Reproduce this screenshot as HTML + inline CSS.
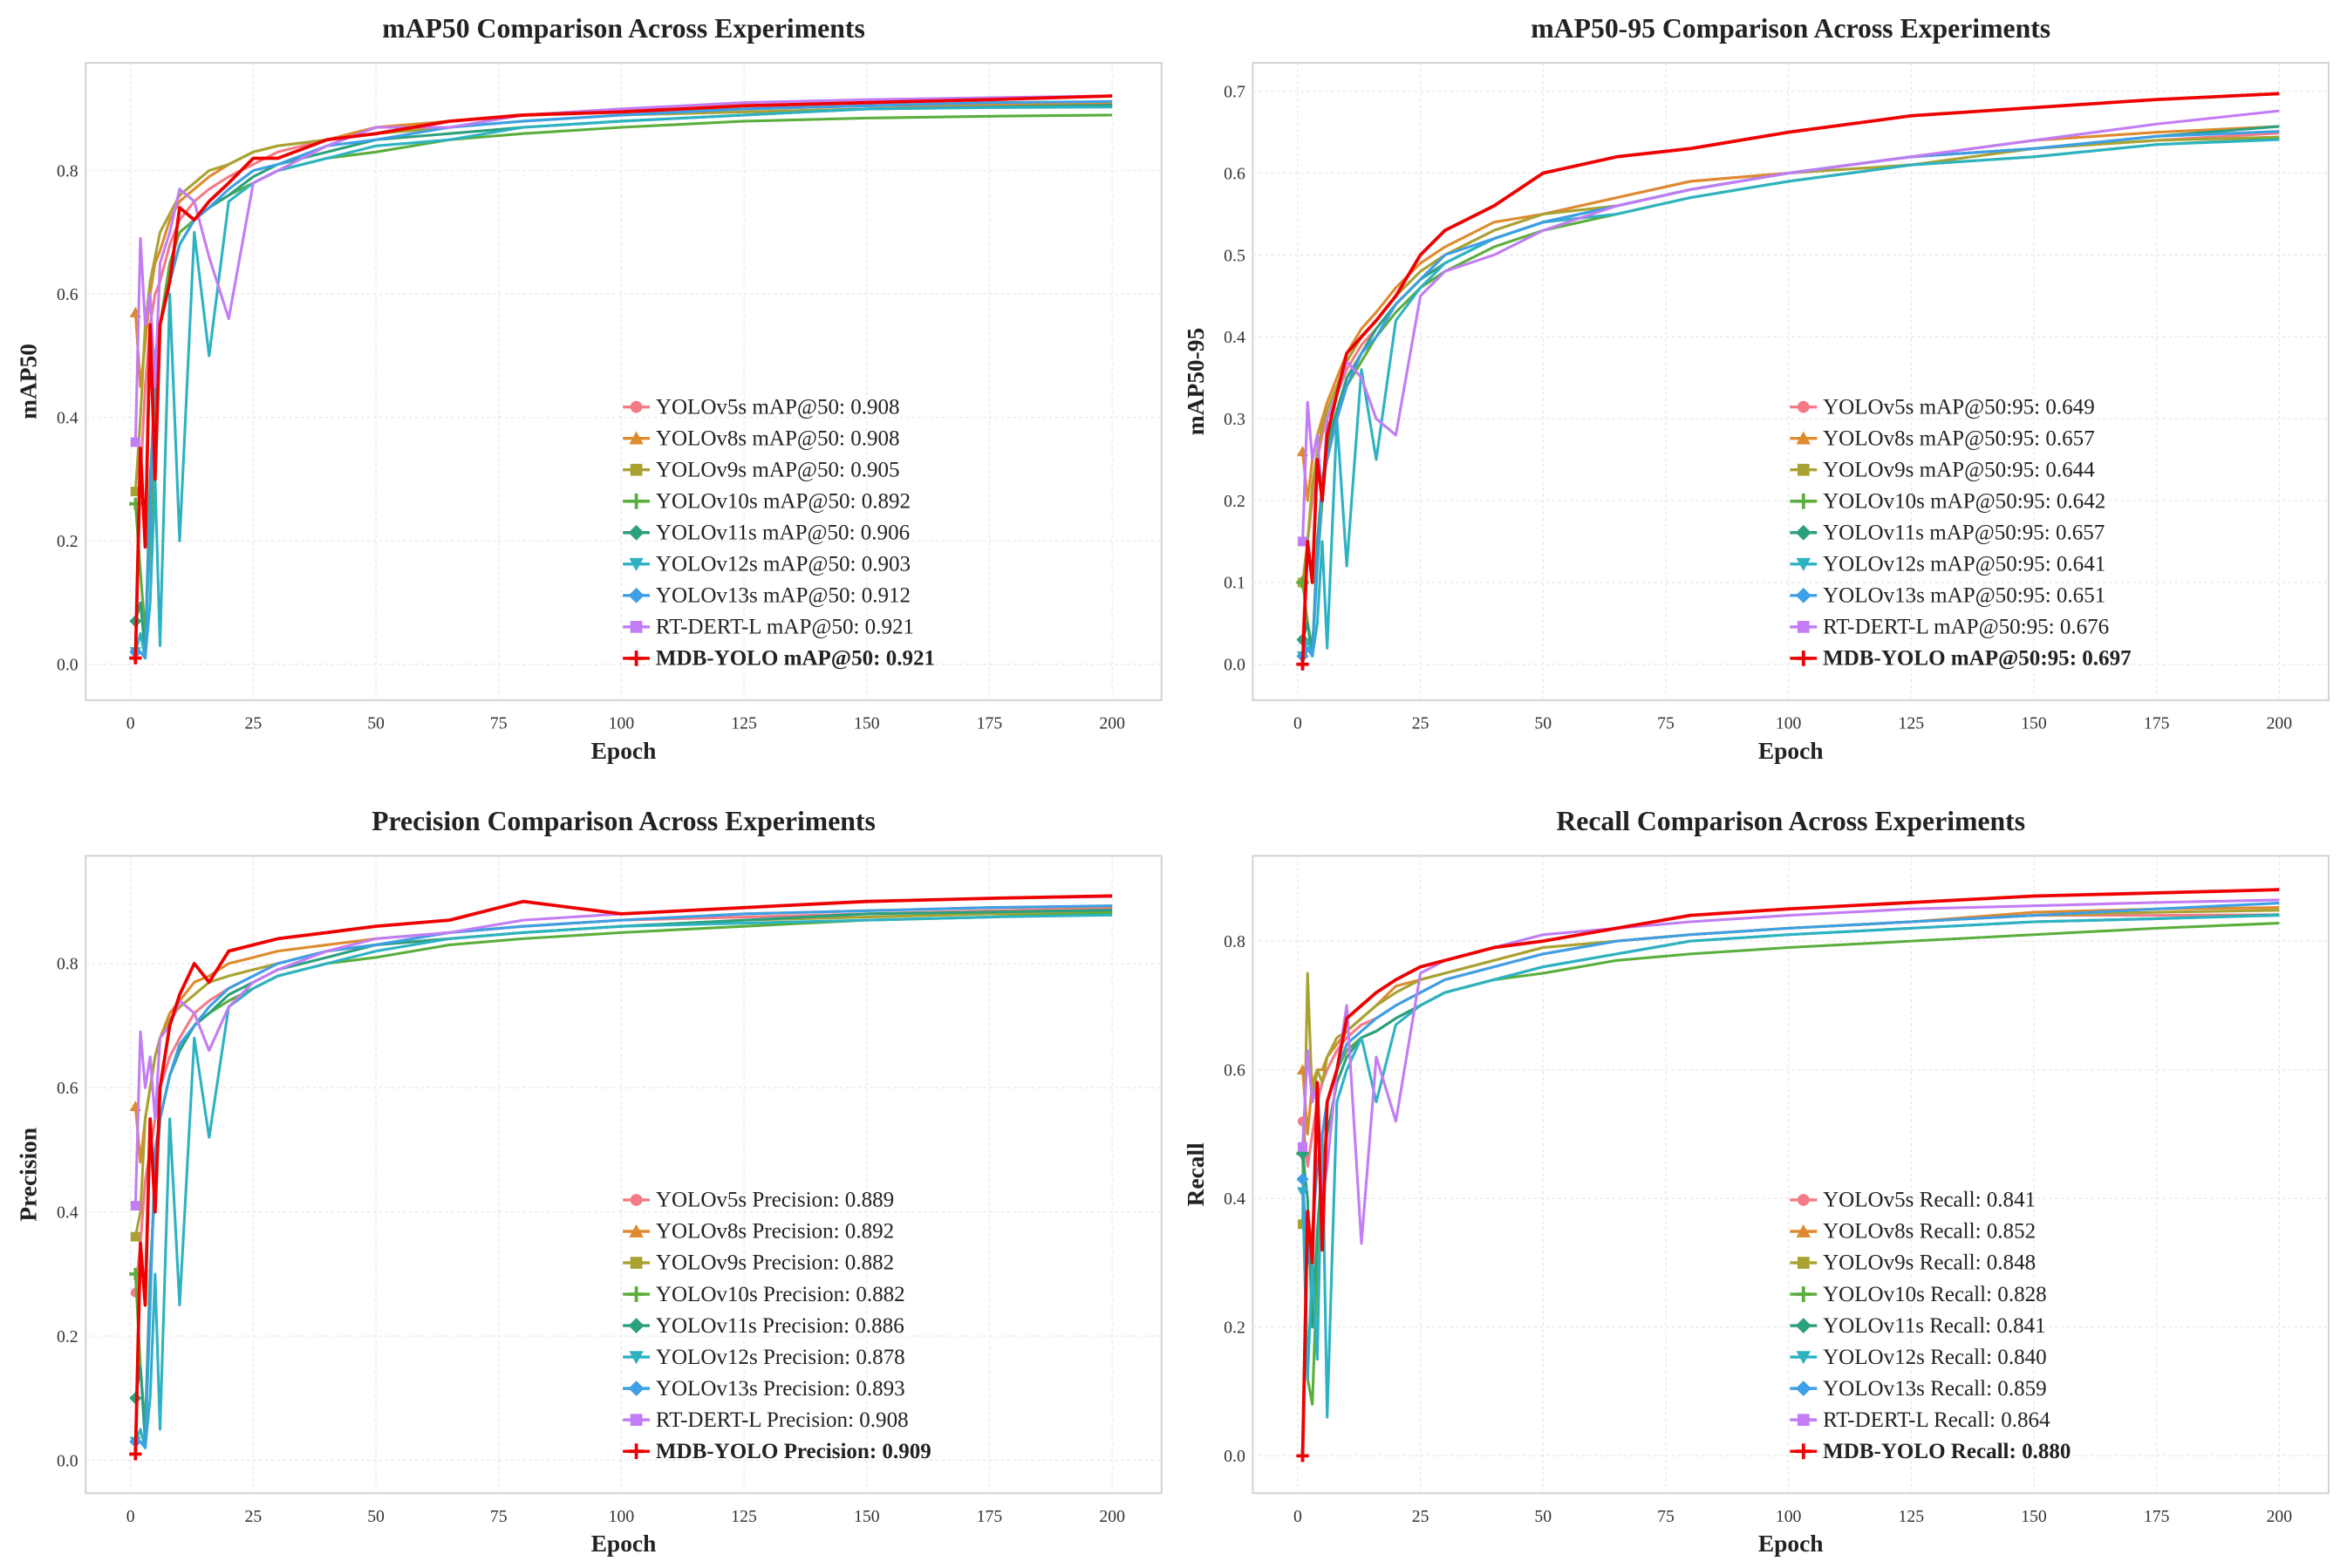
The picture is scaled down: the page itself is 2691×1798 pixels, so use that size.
<!DOCTYPE html>
<html><head><meta charset="utf-8"><style>
html,body{margin:0;padding:0;background:#fff}
svg{display:block}
text{font-family:"Liberation Serif",serif}
</style></head><body>
<svg id="fig" width="2691" height="1798" viewBox="0 0 1568 1048" xmlns="http://www.w3.org/2000/svg"></svg>
<script>
const epochs=[1,2,3,4,5,6,8,10,13,16,20,25,30,40,50,65,80,100,125,150,175,200];
const seriesNames=["YOLOv5s","YOLOv8s","YOLOv9s","YOLOv10s","YOLOv11s","YOLOv12s","YOLOv13s","RT-DERT-L","MDB-YOLO"];
const colors=["#f37b87","#de8a2e","#a9a232","#5aae3c","#2ba07e","#2db2c2","#3d9fe6","#c27cf5","#ee0000"];
const markers=["circle","tri","square","plus","diamond","trid","diamond","square","plus"];
const map50=[
[0.02,0.3,0.45,0.55,0.6,0.62,0.68,0.72,0.75,0.77,0.79,0.81,0.83,0.85,0.87,0.88,0.89,0.895,0.9,0.905,0.907,0.908],
[0.57,0.45,0.52,0.6,0.65,0.67,0.72,0.75,0.77,0.79,0.81,0.83,0.84,0.85,0.87,0.88,0.89,0.9,0.9,0.905,0.906,0.908],
[0.28,0.4,0.55,0.62,0.66,0.7,0.73,0.76,0.78,0.8,0.81,0.83,0.84,0.85,0.86,0.87,0.88,0.89,0.895,0.9,0.903,0.905],
[0.26,0.15,0.05,0.2,0.4,0.55,0.65,0.7,0.72,0.74,0.76,0.78,0.8,0.82,0.83,0.85,0.86,0.87,0.88,0.885,0.888,0.89],
[0.07,0.1,0.02,0.3,0.45,0.55,0.62,0.68,0.72,0.74,0.76,0.79,0.81,0.83,0.85,0.86,0.87,0.88,0.89,0.9,0.903,0.906],
[0.02,0.05,0.01,0.1,0.3,0.03,0.6,0.2,0.7,0.5,0.75,0.78,0.8,0.82,0.84,0.85,0.87,0.88,0.89,0.9,0.902,0.903],
[0.02,0.02,0.01,0.25,0.5,0.55,0.62,0.68,0.72,0.74,0.77,0.8,0.81,0.84,0.85,0.87,0.88,0.89,0.9,0.905,0.91,0.912],
[0.36,0.69,0.55,0.6,0.45,0.65,0.7,0.77,0.75,0.66,0.56,0.78,0.8,0.84,0.87,0.87,0.89,0.9,0.91,0.915,0.918,0.921],
[0.01,0.35,0.19,0.55,0.3,0.55,0.62,0.74,0.72,0.75,0.78,0.82,0.82,0.85,0.86,0.88,0.89,0.895,0.905,0.91,0.915,0.921]];
const map5095=[
[0.03,0.15,0.2,0.25,0.28,0.3,0.33,0.36,0.39,0.41,0.44,0.47,0.5,0.53,0.55,0.57,0.59,0.6,0.62,0.63,0.64,0.649],
[0.26,0.2,0.25,0.28,0.3,0.32,0.35,0.38,0.41,0.43,0.46,0.49,0.51,0.54,0.55,0.57,0.59,0.6,0.62,0.64,0.65,0.657],
[0.1,0.15,0.22,0.26,0.29,0.31,0.34,0.37,0.4,0.42,0.45,0.48,0.5,0.53,0.55,0.56,0.58,0.6,0.61,0.63,0.64,0.644],
[0.1,0.05,0.02,0.12,0.2,0.26,0.3,0.34,0.37,0.4,0.43,0.46,0.48,0.51,0.53,0.55,0.57,0.59,0.61,0.62,0.635,0.642],
[0.03,0.05,0.01,0.15,0.22,0.27,0.31,0.35,0.38,0.41,0.44,0.47,0.49,0.52,0.54,0.56,0.58,0.6,0.62,0.63,0.645,0.657],
[0.01,0.03,0.01,0.05,0.15,0.02,0.3,0.12,0.36,0.25,0.42,0.46,0.49,0.52,0.54,0.55,0.57,0.59,0.61,0.62,0.635,0.641],
[0.01,0.02,0.01,0.12,0.22,0.25,0.3,0.34,0.38,0.4,0.44,0.47,0.5,0.52,0.54,0.56,0.58,0.6,0.62,0.63,0.645,0.651],
[0.15,0.32,0.25,0.28,0.2,0.3,0.33,0.37,0.35,0.3,0.28,0.45,0.48,0.5,0.53,0.56,0.58,0.6,0.62,0.64,0.66,0.676],
[0.0,0.15,0.1,0.25,0.2,0.28,0.33,0.38,0.4,0.42,0.45,0.5,0.53,0.56,0.6,0.62,0.63,0.65,0.67,0.68,0.69,0.697]];
const precision=[
[0.27,0.35,0.45,0.5,0.55,0.6,0.65,0.68,0.72,0.74,0.76,0.78,0.8,0.82,0.83,0.85,0.86,0.87,0.875,0.88,0.885,0.889],
[0.57,0.48,0.55,0.6,0.65,0.68,0.72,0.74,0.77,0.78,0.8,0.81,0.82,0.83,0.84,0.85,0.86,0.87,0.88,0.885,0.89,0.892],
[0.36,0.4,0.55,0.6,0.65,0.68,0.71,0.73,0.75,0.77,0.78,0.79,0.8,0.82,0.83,0.84,0.85,0.86,0.87,0.875,0.88,0.882],
[0.3,0.15,0.05,0.3,0.45,0.55,0.62,0.66,0.7,0.72,0.74,0.76,0.78,0.8,0.81,0.83,0.84,0.85,0.86,0.87,0.875,0.882],
[0.1,0.15,0.03,0.3,0.45,0.55,0.62,0.66,0.7,0.72,0.75,0.77,0.79,0.81,0.83,0.84,0.85,0.86,0.87,0.88,0.883,0.886],
[0.03,0.05,0.02,0.1,0.3,0.05,0.55,0.25,0.68,0.52,0.73,0.76,0.78,0.8,0.82,0.84,0.85,0.86,0.865,0.87,0.875,0.878],
[0.03,0.03,0.02,0.25,0.5,0.55,0.62,0.67,0.7,0.73,0.76,0.78,0.8,0.82,0.83,0.85,0.86,0.87,0.88,0.885,0.89,0.893],
[0.41,0.69,0.6,0.65,0.55,0.68,0.7,0.74,0.72,0.66,0.73,0.77,0.79,0.82,0.84,0.85,0.87,0.88,0.89,0.9,0.905,0.908],
[0.01,0.35,0.25,0.55,0.4,0.6,0.7,0.75,0.8,0.77,0.82,0.83,0.84,0.85,0.86,0.87,0.9,0.88,0.89,0.9,0.905,0.909]];
const recall=[
[0.52,0.45,0.5,0.55,0.58,0.6,0.63,0.65,0.67,0.68,0.7,0.72,0.74,0.76,0.78,0.8,0.81,0.82,0.83,0.84,0.84,0.841],
[0.6,0.5,0.58,0.6,0.6,0.62,0.64,0.66,0.68,0.7,0.73,0.74,0.75,0.77,0.79,0.8,0.81,0.82,0.83,0.845,0.85,0.852],
[0.36,0.75,0.55,0.6,0.58,0.62,0.65,0.66,0.68,0.7,0.72,0.74,0.75,0.77,0.79,0.8,0.81,0.82,0.83,0.84,0.845,0.848],
[0.47,0.12,0.08,0.3,0.5,0.55,0.6,0.63,0.65,0.66,0.68,0.7,0.72,0.74,0.75,0.77,0.78,0.79,0.8,0.81,0.82,0.828],
[0.47,0.4,0.2,0.35,0.45,0.5,0.58,0.62,0.65,0.66,0.68,0.7,0.72,0.74,0.76,0.78,0.8,0.81,0.82,0.83,0.835,0.841],
[0.41,0.12,0.3,0.15,0.5,0.06,0.55,0.6,0.65,0.55,0.67,0.7,0.72,0.74,0.76,0.78,0.8,0.81,0.82,0.83,0.835,0.84],
[0.43,0.3,0.35,0.45,0.5,0.55,0.6,0.64,0.66,0.68,0.7,0.72,0.74,0.76,0.78,0.8,0.81,0.82,0.83,0.84,0.85,0.859],
[0.48,0.63,0.55,0.58,0.4,0.45,0.6,0.7,0.33,0.62,0.52,0.75,0.77,0.79,0.81,0.82,0.83,0.84,0.85,0.855,0.86,0.864],
[0.0,0.38,0.3,0.58,0.32,0.55,0.6,0.68,0.7,0.72,0.74,0.76,0.77,0.79,0.8,0.82,0.84,0.85,0.86,0.87,0.875,0.88]];
const xTicks=[0,25,50,75,100,125,150,175,200];
const yTicks08=[0,0.2,0.4,0.6,0.8];
const yTicks07=[0,0.1,0.2,0.3,0.4,0.5,0.6,0.7];

const NS="http://www.w3.org/2000/svg";
const svg=document.getElementById('fig');
function mk(tag,attrs,parent){const e=document.createElementNS(NS,tag);for(const k in attrs)e.setAttribute(k,attrs[k]);(parent||svg).appendChild(e);return e;}
function marker(g,type,x,y,c,s){
  let e;
  if(type==="circle")e=mk('circle',{cx:x,cy:y,r:s,fill:c},g);
  else if(type==="square")e=mk('rect',{x:x-s,y:y-s,width:2*s,height:2*s,fill:c},g);
  else if(type==="tri")e=mk('polygon',{points:`${x},${y-s*1.2} ${x-s*1.2},${y+s} ${x+s*1.2},${y+s}`,fill:c},g);
  else if(type==="trid")e=mk('polygon',{points:`${x},${y+s*1.2} ${x-s*1.2},${y-s} ${x+s*1.2},${y-s}`,fill:c},g);
  else if(type==="diamond")e=mk('polygon',{points:`${x},${y-s*1.3} ${x+s*1.3},${y} ${x},${y+s*1.3} ${x-s*1.3},${y}`,fill:c},g);
  else e=mk('path',{d:`M${x-s*1.3},${y}H${x+s*1.3}M${x},${y-s*1.3}V${y+s*1.3}`,stroke:c,'stroke-width':2.2},g);
  return e;
}
const panels=[
 {name:"map50",title:"mAP50 Comparison Across Experiments",ylab:"mAP50",data:map50,fx:57,fy:42,x0:87,x1:743,y0:444,yTop:114,yTopV:0.8,ticks:yTicks08,dec:1,legend:"mAP@50"},
 {name:"map50-95",title:"mAP50-95 Comparison Across Experiments",ylab:"mAP50-95",data:map5095,fx:837,fy:42,x0:867,x1:1523,y0:444,yTop:61,yTopV:0.7,ticks:yTicks07,dec:1,legend:"mAP@50:95"},
 {name:"precision",title:"Precision Comparison Across Experiments",ylab:"Precision",data:precision,fx:57,fy:572,x0:87,x1:743,y0:976,yTop:644,yTopV:0.8,ticks:yTicks08,dec:1,legend:"Precision"},
 {name:"recall",title:"Recall Comparison Across Experiments",ylab:"Recall",data:recall,fx:837,fy:572,x0:867,x1:1523,y0:973,yTop:629,yTopV:0.8,ticks:yTicks08,dec:1,legend:"Recall"}];
const finals={map50:["0.908","0.908","0.905","0.892","0.906","0.903","0.912","0.921","0.921"],
"map50-95":["0.649","0.657","0.644","0.642","0.657","0.641","0.651","0.676","0.697"],
precision:["0.889","0.892","0.882","0.882","0.886","0.878","0.893","0.908","0.909"],
recall:["0.841","0.852","0.848","0.828","0.841","0.840","0.859","0.864","0.880"]};
panels.forEach(p=>{
  const g=mk('g',{});
  
  
  const W=719,H=426;
  const sx=v=>p.x0+(p.x1-p.x0)*v/200;
  const sy=v=>p.y0-(p.y0-p.yTop)*v/p.yTopV;
  const fr=mk('rect',{x:p.fx,y:p.fy,width:W,height:H,fill:'#fff',stroke:'#d4d4d4','stroke-width':1.2},g);
  
  xTicks.forEach(t=>{
    mk('line',{x1:sx(t),x2:sx(t),y1:p.fy,y2:p.fy+H,stroke:'#e6e6e6','stroke-width':0.7,'stroke-dasharray':'2,2'},g);
    const tx=mk('text',{x:sx(t),y:p.fy+H+19,'text-anchor':'middle','font-size':11.5,fill:'#333'},g);tx.textContent=t;
    
  });
  p.ticks.forEach(t=>{
    mk('line',{x1:p.fx,x2:p.fx+W,y1:sy(t),y2:sy(t),stroke:'#e6e6e6','stroke-width':0.7,'stroke-dasharray':'2,2'},g);
    const tx=mk('text',{x:p.fx-5,y:sy(t)+4,'text-anchor':'end','font-size':11.5,fill:'#333'},g);tx.textContent=t.toFixed(p.dec);
    
  });
  const ti=mk('text',{x:p.fx+W/2,y:p.fy-17,'text-anchor':'middle','font-size':18.5,'font-weight':'bold',fill:'#222'},g);ti.textContent=p.title;
  
  const xl=mk('text',{x:p.fx+W/2,y:p.fy+H+39,'text-anchor':'middle','font-size':16,'font-weight':'bold',fill:'#222'},g);xl.textContent="Epoch";
  
  const yx=p.fx-33, yy=p.fy+H/2;
  const yl=mk('text',{x:yx,y:yy,'text-anchor':'middle','font-size':16,'font-weight':'bold',fill:'#222',transform:`rotate(-90 ${yx} ${yy})`},g);yl.textContent=p.ylab;
  
  p.data.forEach((vals,i)=>{
    const d=vals.map((v,j)=>(j?'L':'M')+sx(epochs[j]).toFixed(1)+','+sy(v).toFixed(1)).join('');
    const ln=mk('path',{d:d,fill:'none',stroke:colors[i],'stroke-width':i===8?2.2:1.8,'stroke-linejoin':'round'},g);
    
    
    const m=marker(g,markers[i],sx(epochs[0]),sy(vals[0]),colors[i],3.2);
    
    
  });
  const lg=mk('g',{},g);
  
  
  seriesNames.forEach((n,i)=>{
    const ly=p.fy+230+i*21;
    const lx=p.fx+368;
    mk('line',{x1:lx-9,x2:lx+9,y1:ly,y2:ly,stroke:colors[i],'stroke-width':2},lg);
    marker(lg,markers[i],lx,ly,colors[i],4);
    const t=mk('text',{x:lx+13,y:ly+4.5,'font-size':14.6,fill:'#222','font-weight':i===8?'bold':'normal'},lg);
    t.textContent=n+" "+p.legend+": "+finals[p.name][i];
    
    
  });
});
</script>
</body></html>
